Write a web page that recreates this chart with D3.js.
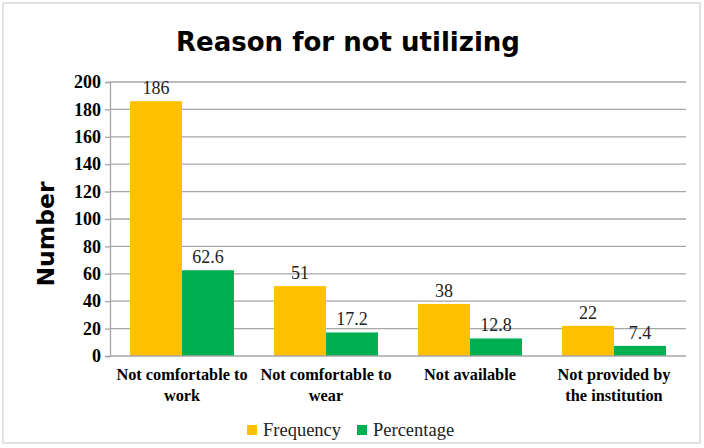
<!DOCTYPE html>
<html><head><meta charset="utf-8">
<script src="https://cdn.jsdelivr.net/npm/d3@7"></script>
<style>body{margin:0;background:#fff}svg{display:block}</style>
</head><body>
<script>
const categories = [["Not comfortable to","work"],["Not comfortable to","wear"],["Not available"],["Not provided by","the institution"]];
const seriesNames = ["Frequency","Percentage"];
const frequency = [186, 51, 38, 22];
const percentage = [62.6, 17.2, 12.8, 7.4];
const yTicks = [0,20,40,60,80,100,120,140,160,180,200];
const colors = ["#FFC000","#00B050"];

const W=704,H=448;
const svg=d3.select("body").append("svg").attr("width",W).attr("height",H);
svg.append("rect").attr("x",3).attr("y",3).attr("width",697).attr("height",440).attr("fill","#fff").attr("stroke","#e3e3e3").attr("stroke-width",2);

const m={l:110,r:686,t:82,b:356};
const x0=d3.scaleBand().domain(d3.range(categories.length)).range([m.l,m.r]).paddingInner(0).paddingOuter(0);
const x1=d3.scaleBand().domain(seriesNames).range([20,x0.bandwidth()-20]);
const y=d3.scaleLinear().domain([0,200]).range([m.b,m.t]);

// gridlines
svg.append("g").selectAll("line").data(yTicks.filter(d=>d>0)).join("line")
 .attr("x1",m.l).attr("x2",m.r).attr("y1",d=>y(d)).attr("y2",d=>y(d))
 .attr("stroke","#a6a6a6").attr("stroke-width",1.3);

const yAxis=svg.append("g").attr("transform",`translate(${m.l},0)`)
 .call(d3.axisLeft(y).tickValues(yTicks).tickSize(5).tickPadding(4));
yAxis.select(".domain").attr("stroke","#a6a6a6").attr("stroke-width",1.3);
yAxis.selectAll(".tick line").attr("stroke","#a6a6a6").attr("stroke-width",1.3);
yAxis.selectAll("text").attr("font-family","Liberation Serif").attr("font-weight","bold").attr("font-size",18).attr("fill","#000");

const data=categories.map((c,i)=>({i,vals:[frequency[i],percentage[i]]}));
const g=svg.append("g").selectAll("g").data(data).join("g").attr("transform",d=>`translate(${x0(d.i)},0)`);
g.selectAll("rect").data(d=>d.vals.map((v,k)=>({k,v}))).join("rect")
 .attr("x",d=>x1(seriesNames[d.k])).attr("width",x1.bandwidth())
 .attr("y",d=>y(d.v)).attr("height",d=>y(0)-y(d.v)).attr("fill",d=>colors[d.k]);
g.selectAll("text.lab").data(d=>d.vals.map((v,k)=>({k,v}))).join("text").attr("class","lab")
 .attr("x",d=>x1(seriesNames[d.k])+x1.bandwidth()/2).attr("y",d=>y(d.v)-7)
 .attr("text-anchor","middle").attr("font-family","Liberation Serif").attr("font-size",18).attr("fill","#222")
 .text(d=>d.v);

// x axis line
svg.append("line").attr("x1",m.l).attr("x2",m.r).attr("y1",y(0)).attr("y2",y(0)).attr("stroke","#a6a6a6").attr("stroke-width",1.5);

// category labels
const cl=svg.append("g").selectAll("text").data(categories).join("text")
 .attr("x",(d,i)=>x0(i)+x0.bandwidth()/2).attr("y",380)
 .attr("text-anchor","middle").attr("font-family","Liberation Serif").attr("font-weight","bold").attr("font-size",16.3).attr("fill","#000");
cl.selectAll("tspan").data(d=>d).join("tspan").attr("x",function(){return this.parentNode.getAttribute("x");})
 .attr("dy",(d,j)=>j?21:0).text(d=>d);

// title
svg.append("text").attr("x",348).attr("y",51).attr("text-anchor","middle")
 .attr("font-family","DejaVu Sans").attr("font-weight","bold").attr("font-size",26).text("Reason for not utilizing");
// y label
svg.append("text").attr("transform","translate(54,234) rotate(-90)").attr("text-anchor","middle")
 .attr("font-family","DejaVu Sans").attr("font-weight","bold").attr("font-size",23.5).text("Number");

// legend
const lg=svg.append("g");
const lx=[247,357];
seriesNames.forEach((s,k)=>{
 lg.append("rect").attr("x",lx[k]).attr("y",425).attr("width",10).attr("height",10).attr("fill",colors[k]);
 lg.append("text").attr("x",lx[k]+16).attr("y",436).attr("font-family","Liberation Serif").attr("font-size",18.5).attr("fill","#222").text(s);
});
</script>
</body></html>
